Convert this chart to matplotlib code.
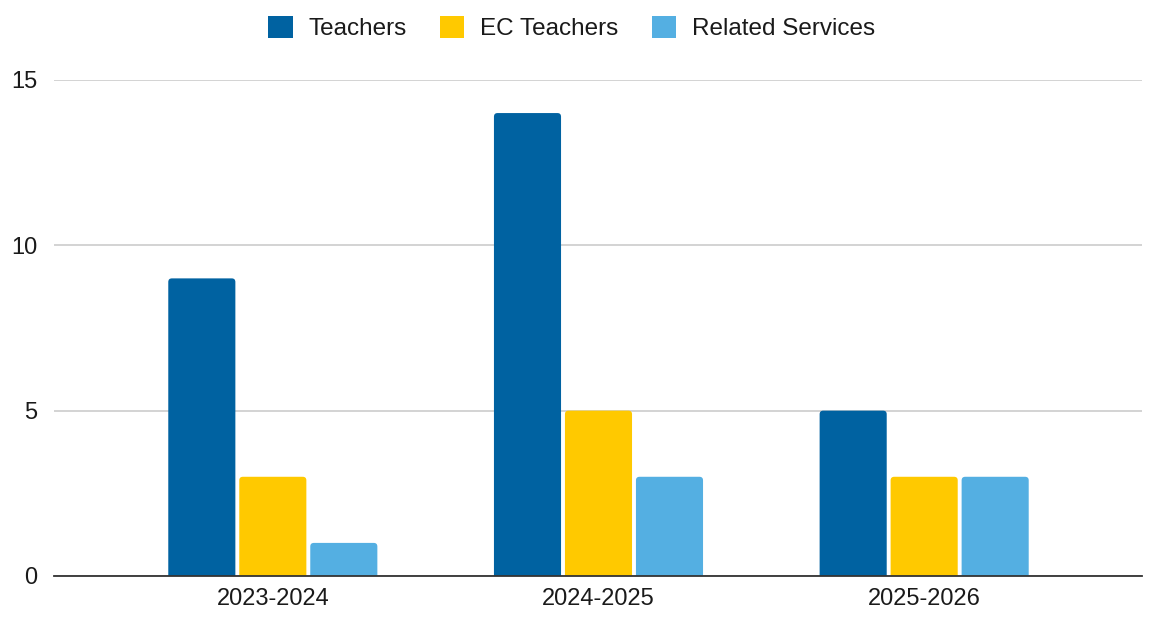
import matplotlib.pyplot as plt
from matplotlib.patches import FancyBboxPatch, Patch

plt.rcParams['font.family'] = ['Liberation Sans', 'DejaVu Sans']

years = ['2023-2024', '2024-2025', '2025-2026']
teachers = [9, 14, 5]
ec_teachers = [3, 5, 3]
related_services = [1, 3, 3]

series = [('Teachers', teachers, '#0062a1'),
          ('EC Teachers', ec_teachers, '#ffc900'),
          ('Related Services', related_services, '#54afe2')]

fig = plt.figure(figsize=(11.53, 6.22), dpi=100)
ax = fig.add_axes([0.0468, 0.074, 0.9437, 0.7974])

width = 0.206
step = 0.218
# px per data unit, used so the rounded corners come out circular
x_px = 326.0
y_px = 496.0 / 15
for i, (name, vals, color) in enumerate(series):
    for j, v in enumerate(vals):
        x0 = j + (i - 1) * step - width / 2
        box = FancyBboxPatch((x0, -0.3), width, v + 0.3,
                             boxstyle='round,pad=0,rounding_size=0.011',
                             mutation_aspect=x_px / y_px,
                             facecolor=color, edgecolor='none', zorder=3)
        ax.add_patch(box)

ax.set_xlim(-0.672, 2.669)
ax.set_ylim(0, 15)
ax.set_yticks([0, 5, 10, 15])
ax.set_xticks(range(len(years)))
ax.set_xticklabels(years)
ax.tick_params(axis='both', length=0, labelsize=17, colors='#1a1a1a')
ax.tick_params(axis='x', pad=9)
ax.tick_params(axis='y', pad=12)
ax.grid(axis='y', color='#cccccc', linewidth=1.2, zorder=0)
for s in ['top', 'right', 'left']:
    ax.spines[s].set_visible(False)
ax.spines['bottom'].set_color('#333333')
ax.spines['bottom'].set_linewidth(1.3)
ax.spines['bottom'].set_zorder(4)

handles = [Patch(facecolor=c, edgecolor='none', label=n) for n, _, c in series]
fig.legend(handles=handles, loc='center', bbox_to_anchor=(0.496, 0.955), ncol=3,
           frameon=False, fontsize=17.5, handlelength=1.0, handleheight=1.05,
           handletextpad=0.66, columnspacing=1.36, labelcolor='#1a1a1a')

fig.savefig('out.png', dpi=100)
